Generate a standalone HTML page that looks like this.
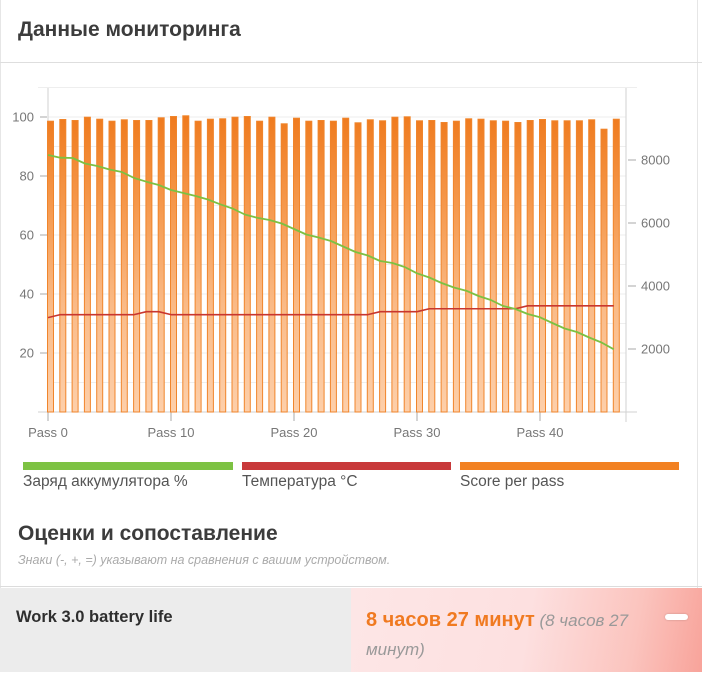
<!DOCTYPE html>
<html><head><meta charset="utf-8">
<style>
html,body{margin:0;padding:0;background:#fff;}
body{width:702px;height:675px;overflow:hidden;position:relative;font-family:"Liberation Sans","Noto Sans CJK SC",sans-serif;}
.abs{position:absolute;white-space:nowrap;}
</style></head><body>
<div class="abs" style="left:0;top:0;width:1px;height:588px;background:#e6e6e6"></div>
<div class="abs" style="left:697px;top:0;width:1px;height:588px;background:#e6e6e6"></div>
<div class="abs" style="left:0;top:62px;width:702px;height:1px;background:#dedede"></div>
<div class="abs" style="left:18px;top:17px;font-size:21px;font-weight:bold;color:#3c3c3c;line-height:26px;">Данные мониторинга</div>

<svg class="abs" style="left:0;top:0" width="702" height="500" viewBox="0 0 702 500">
<defs>
<linearGradient id="bg" gradientUnits="userSpaceOnUse" x1="0" y1="115" x2="0" y2="412">
<stop offset="0" stop-color="#ef7a1d"/>
<stop offset="0.3" stop-color="#f5984c"/>
<stop offset="0.65" stop-color="#fabb88"/>
<stop offset="1" stop-color="#fdcfaa"/>
</linearGradient>
</defs>
<g stroke="#eeeeee" stroke-width="1">
<line x1="38" y1="87.5" x2="637" y2="87.5"/>
<line x1="48" y1="117" x2="626" y2="117"/>
<line x1="48" y1="146.5" x2="626" y2="146.5"/>
<line x1="48" y1="176" x2="626" y2="176"/>
<line x1="48" y1="205.5" x2="626" y2="205.5"/>
<line x1="48" y1="235" x2="626" y2="235"/>
<line x1="48" y1="264.5" x2="626" y2="264.5"/>
<line x1="48" y1="294" x2="626" y2="294"/>
<line x1="48" y1="323.5" x2="626" y2="323.5"/>
<line x1="48" y1="353" x2="626" y2="353"/>
<line x1="48" y1="382.5" x2="626" y2="382.5"/>
</g>
<g stroke="#d2d2d2" stroke-width="1">
<line x1="48" y1="88" x2="48" y2="412"/>
<line x1="626" y1="88" x2="626" y2="422"/>
<line x1="38" y1="412" x2="637" y2="412"/>
</g>
<g stroke="#aaaaaa" stroke-width="1">
<line x1="40" y1="117" x2="47" y2="117"/>
<line x1="40" y1="176" x2="47" y2="176"/>
<line x1="40" y1="235" x2="47" y2="235"/>
<line x1="40" y1="294" x2="47" y2="294"/>
<line x1="40" y1="353" x2="47" y2="353"/>
<line x1="628" y1="160" x2="636" y2="160"/>
<line x1="628" y1="223" x2="636" y2="223"/>
<line x1="628" y1="286" x2="636" y2="286"/>
<line x1="628" y1="349" x2="636" y2="349"/>
<line x1="48" y1="412" x2="48" y2="421"/>
<line x1="171" y1="412" x2="171" y2="421"/>
<line x1="294" y1="412" x2="294" y2="421"/>
<line x1="417" y1="412" x2="417" y2="421"/>
<line x1="540" y1="412" x2="540" y2="421"/>
</g>
<g font-family="Liberation Sans, sans-serif" font-size="13" fill="#777">
<text x="34" y="121.6" text-anchor="end">100</text>
<text x="34" y="180.6" text-anchor="end">80</text>
<text x="34" y="239.6" text-anchor="end">60</text>
<text x="34" y="298.6" text-anchor="end">40</text>
<text x="34" y="357.6" text-anchor="end">20</text>
<text x="641" y="164.6">8000</text>
<text x="641" y="227.6">6000</text>
<text x="641" y="290.6">4000</text>
<text x="641" y="353.6">2000</text>
<text x="48" y="437" text-anchor="middle">Pass 0</text>
<text x="171" y="437" text-anchor="middle">Pass 10</text>
<text x="294" y="437" text-anchor="middle">Pass 20</text>
<text x="417" y="437" text-anchor="middle">Pass 30</text>
<text x="540" y="437" text-anchor="middle">Pass 40</text>
</g>
<g fill="url(#bg)" stroke="#f0852c" stroke-width="1">
<rect x="47.5" y="121.2" width="6" height="290.8"/>
<rect x="59.8" y="119.5" width="6" height="292.5"/>
<rect x="72.1" y="120.5" width="6" height="291.5"/>
<rect x="84.4" y="117.2" width="6" height="294.8"/>
<rect x="96.7" y="119.2" width="6" height="292.8"/>
<rect x="109" y="121.2" width="6" height="290.8"/>
<rect x="121.3" y="119.8" width="6" height="292.2"/>
<rect x="133.6" y="120.5" width="6" height="291.5"/>
<rect x="145.9" y="120.5" width="6" height="291.5"/>
<rect x="158.2" y="117.8" width="6" height="294.2"/>
<rect x="170.5" y="116.5" width="6" height="295.5"/>
<rect x="182.8" y="115.8" width="6" height="296.2"/>
<rect x="195.1" y="121.2" width="6" height="290.8"/>
<rect x="207.4" y="119.2" width="6" height="292.8"/>
<rect x="219.7" y="118.8" width="6" height="293.2"/>
<rect x="232" y="117.2" width="6" height="294.8"/>
<rect x="244.3" y="116.5" width="6" height="295.5"/>
<rect x="256.6" y="121.2" width="6" height="290.8"/>
<rect x="268.9" y="117.2" width="6" height="294.8"/>
<rect x="281.2" y="123.8" width="6" height="288.2"/>
<rect x="293.5" y="118.2" width="6" height="293.8"/>
<rect x="305.8" y="121.2" width="6" height="290.8"/>
<rect x="318.1" y="120.5" width="6" height="291.5"/>
<rect x="330.4" y="121.2" width="6" height="290.8"/>
<rect x="342.7" y="118.2" width="6" height="293.8"/>
<rect x="355" y="122.8" width="6" height="289.2"/>
<rect x="367.3" y="119.8" width="6" height="292.2"/>
<rect x="379.6" y="120.8" width="6" height="291.2"/>
<rect x="391.9" y="117.2" width="6" height="294.8"/>
<rect x="404.2" y="116.8" width="6" height="295.2"/>
<rect x="416.5" y="120.8" width="6" height="291.2"/>
<rect x="428.8" y="120.5" width="6" height="291.5"/>
<rect x="441.1" y="122.5" width="6" height="289.5"/>
<rect x="453.4" y="121.2" width="6" height="290.8"/>
<rect x="465.7" y="118.8" width="6" height="293.2"/>
<rect x="478" y="119.2" width="6" height="292.8"/>
<rect x="490.3" y="120.8" width="6" height="291.2"/>
<rect x="502.6" y="121.2" width="6" height="290.8"/>
<rect x="514.9" y="122.5" width="6" height="289.5"/>
<rect x="527.2" y="120.5" width="6" height="291.5"/>
<rect x="539.5" y="119.5" width="6" height="292.5"/>
<rect x="551.8" y="120.8" width="6" height="291.2"/>
<rect x="564.1" y="120.8" width="6" height="291.2"/>
<rect x="576.4" y="120.8" width="6" height="291.2"/>
<rect x="588.7" y="119.8" width="6" height="292.2"/>
<rect x="601" y="129.2" width="6" height="282.8"/>
<rect x="613.3" y="119.2" width="6" height="292.8"/>
</g>
<polyline fill="none" stroke="#c8362e" stroke-width="1.6" stroke-linejoin="round" points="48,317.6 60.3,314.65 134.1,314.65 146.4,311.7 158.7,311.7 171,314.65 367.8,314.65 380.1,311.7 417,311.7 429.3,308.75 515.4,308.75 527.7,305.8 613.8,305.8"/>
<polyline fill="none" stroke="#7cc142" stroke-width="1.8" stroke-linejoin="round" points="48,155 60.3,157.7 72.6,158 84.9,163.5 97.2,166 109.5,169.5 121.8,172 134.1,178 146.4,181.7 158.7,185 171,190 183.3,193 195.6,196 207.9,199.5 220.2,204.3 232.5,208.5 244.8,214.5 257.1,217.7 269.4,220 281.7,223.5 294,229 306.3,234.5 318.6,237.5 330.9,241 343.2,246.5 355.5,252 367.8,255.5 380.1,261 392.4,263 404.7,267 417,273.3 429.3,277.5 441.6,283 453.9,287.5 466.2,290.7 478.5,296 490.8,300 503.1,306 515.4,309 527.7,314 540,317.3 552.3,323 564.6,328.5 576.9,332 589.2,337.5 601.5,342.5 613.8,349.3"/>
<rect x="23" y="462" width="210" height="8" fill="#7dc243"/>
<rect x="242" y="462" width="209" height="8" fill="#c8393a"/>
<rect x="460" y="462" width="219" height="8" fill="#f28122"/>
<g font-family="Liberation Sans, sans-serif" font-size="15.5" fill="#555">
<text x="23" y="486">Заряд аккумулятора %</text>
<text x="242" y="486">Температура °C</text>
<text x="460" y="486">Score per pass</text>
</g>
</svg>

<div class="abs" style="left:18px;top:521px;font-size:21px;font-weight:bold;color:#3c3c3c;line-height:26px;">Оценки и сопоставление</div>
<div class="abs" style="left:18px;top:552px;font-size:12.5px;font-style:italic;color:#aaa;line-height:16px;">Знаки (-, +, =) указывают на сравнения с вашим устройством.</div>
<div class="abs" style="left:0;top:586px;width:702px;height:1px;background:#dcdcdc"></div>
<div class="abs" style="left:0;top:588px;width:351px;height:84px;background:#ececec"></div>
<div class="abs" style="left:351px;top:588px;width:351px;height:84px;background:linear-gradient(100deg,#fde6e6 0%,#fde0e0 50%,#fbc4be 80%,#f8a39a 100%)"></div>
<div class="abs" style="left:16px;top:606px;font-size:16.5px;font-weight:bold;color:#2e2e2e;line-height:22px;">Work 3.0 battery life</div>
<div class="abs" style="left:366px;top:606px;width:290px;white-space:normal;line-height:29px;font-size:17px;font-style:italic;color:#999;"><span style="font-size:20px;font-weight:bold;font-style:normal;color:#f07a21;">8 часов 27 минут</span> (8 часов 27 минут)</div>
<div class="abs" style="left:665px;top:614px;width:23px;height:6px;border-radius:3px;background:#fff;box-shadow:0 0 2px rgba(0,0,0,0.2)"></div>
</body></html>
